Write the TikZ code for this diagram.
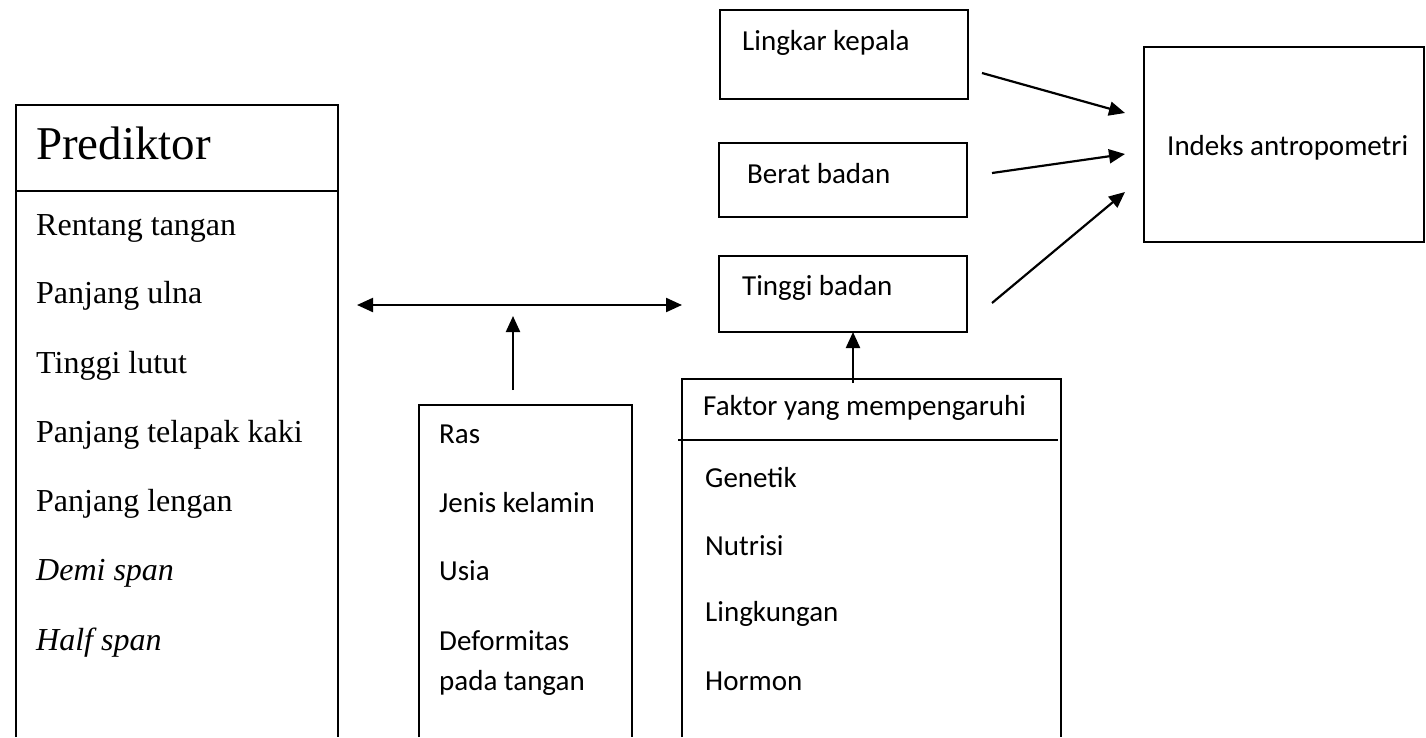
\documentclass[tikz,border=0pt]{standalone}
\usepackage{fontspec}
\setmainfont{Liberation Serif}
\newfontfamily\calib{Carlito}
\usetikzlibrary{arrows.meta}
\begin{document}
\begin{tikzpicture}[x=1pt,y=-1pt,
  boxline/.style={line width=1.6pt},
  tip/.style={},
  arr/.style={line width=2.2pt,-{Triangle[length=16pt,width=14pt]}},
  darr/.style={line width=2.2pt,{Triangle[length=16pt,width=14pt]}-{Triangle[length=16pt,width=14pt]}},
  tms/.style={anchor=base west,inner sep=0pt,font=\fontsize{32}{38}\selectfont},
  tmsi/.style={tms,font=\fontsize{32}{38}\selectfont\itshape},
  cal/.style={anchor=base west,inner sep=0pt,font=\calib\fontsize{29}{35}\selectfont},
  sbox/.style={draw,line width=1.6pt,rectangle,inner sep=0pt}]
\useasboundingbox (0,0) rectangle (1426,737);

% Left box (Prediktor)
\draw[boxline] (16,737) -- (16,105) -- (338,105) -- (338,737);
\draw[boxline] (16,191) -- (338,191);
\node[anchor=base west,inner sep=0pt,font=\fontsize{47}{56}\selectfont] (pred) at (36,159) {Prediktor};
\node[tms] (p1) at (36,235) {Rentang tangan};
\node[tms] (p2) at (36,303) {Panjang ulna};
\node[tms] (p3) at (36,373) {Tinggi lutut};
\node[tms] (p4) at (36,442) {Panjang telapak kaki};
\node[tms] (p5) at (36,511) {Panjang lengan};
\node[tmsi] (p6) at (36,580) {Demi span};
\node[tmsi] (p7) at (36,650) {Half span};

% Middle box
\draw[boxline] (419,737) -- (419,405) -- (632,405) -- (632,737);
\node[cal] (m1) at (439,443) {Ras};
\node[cal] (m2) at (439,512) {Jenis kelamin};
\node[cal] (m3) at (439,580) {Usia};
\node[cal] (m4) at (439,650) {Deformitas};
\node[cal] (m5) at (439,690) {pada tangan};

% Faktor box
\draw[boxline] (682,737) -- (682,379) -- (1061,379) -- (1061,737);
\draw[boxline] (678,440) -- (1058,440);
\node[cal] (fk) at (703,415) {Faktor yang mempengaruhi};
\node[cal] (f1) at (705,487) {Genetik};
\node[cal] (f2) at (705,555) {Nutrisi};
\node[cal] (f3) at (705,621) {Lingkungan};
\node[cal] (f4) at (705,690) {Hormon};

% Right boxes
\node[sbox,minimum width=248pt,minimum height=89pt] (lk) at (844,54.5) {};
\node[cal] (lkt) at (742,50) {Lingkar kepala};
\node[sbox,minimum width=248pt,minimum height=74pt] (bb) at (843,180) {};
\node[cal] (bbt) at (747,183) {Berat badan};
\node[sbox,minimum width=248pt,minimum height=76pt] (tb) at (843,294) {};
\node[cal] (tbt) at (742,295) {Tinggi badan};
\node[sbox,minimum width=280pt,minimum height=195pt] (ia) at (1284,144.5) {};
\node[cal] (iat) at (1167,155) {Indeks antropometri};

% Connectors
\coordinate (a1s) at (982,73);  \coordinate (a1e) at (1125,113);
\coordinate (a2s) at (992,173); \coordinate (a2e) at (1125,154);
\coordinate (a3s) at (992,303); \coordinate (a3e) at (1125,192);
\draw[arr] (a1s) -- (a1e);
\draw[arr] (a2s) -- (a2e);
\draw[arr] (a3s) -- (a3e);

\coordinate (dl) at (357,305); \coordinate (dr) at (682,305);
\draw[darr] (dl) -- (dr);
\coordinate (us) at (513,390); \coordinate (ue) at (513,316);
\draw[arr] (us) -- (ue);
\coordinate (fs) at (853,383); \coordinate (fe) at (853,332);
\draw[arr] (fs) -- (fe);
\end{tikzpicture}
\end{document}
